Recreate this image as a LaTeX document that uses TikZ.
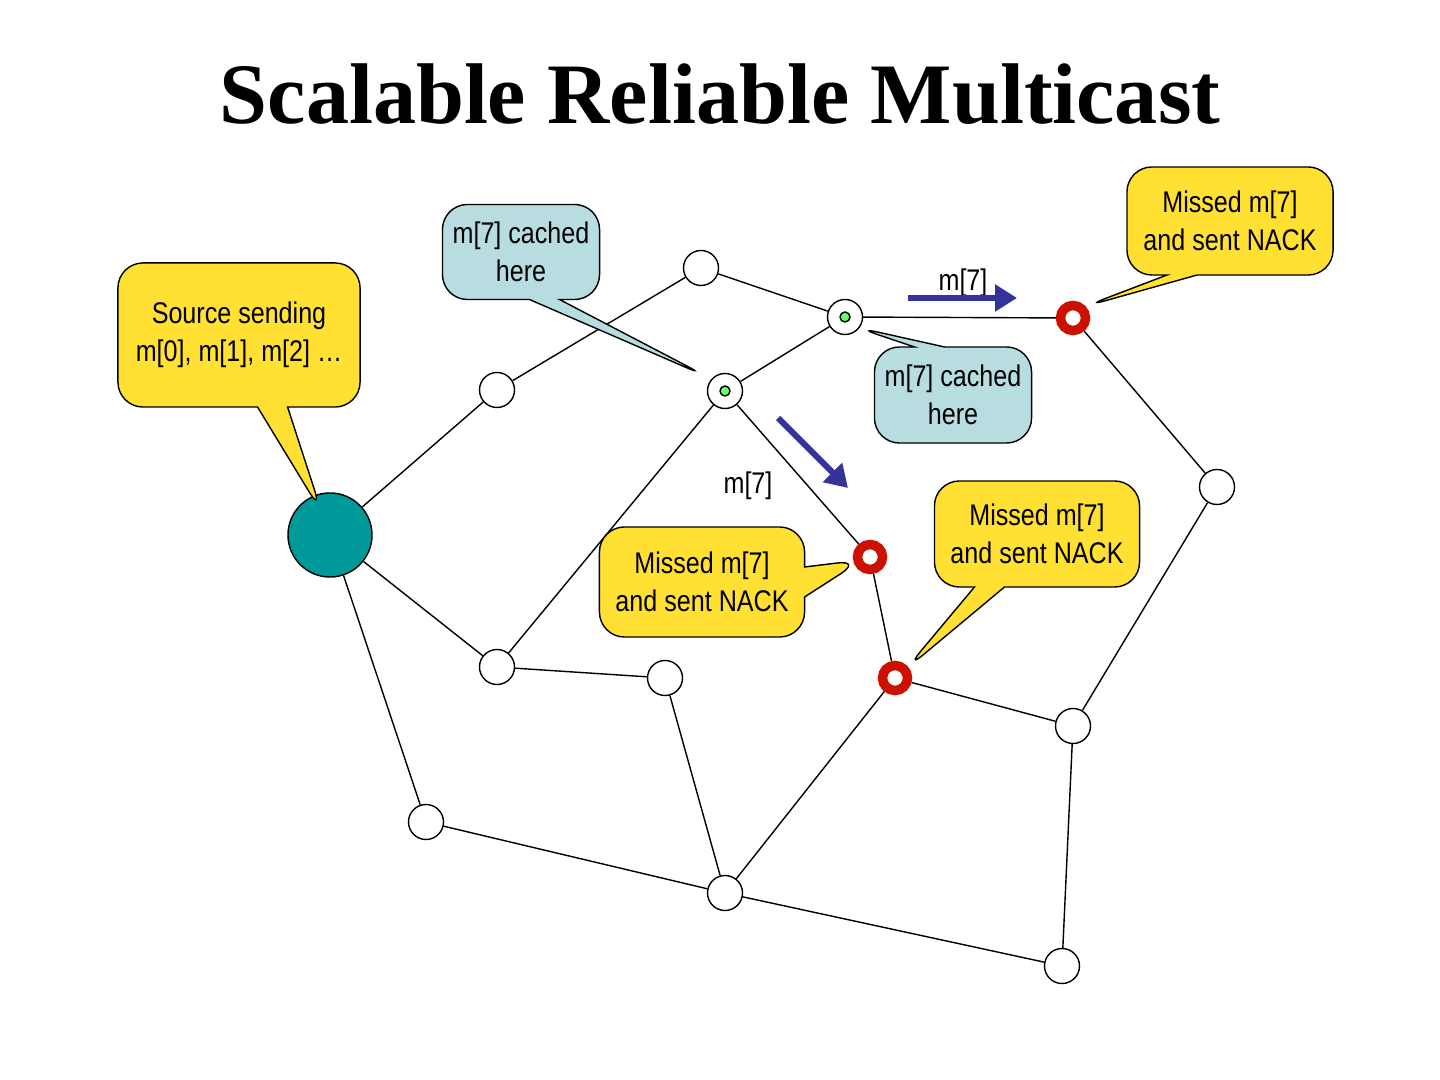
\documentclass[tikz,border=0pt]{standalone}
\usepackage{fontspec}
\setmainfont{Liberation Sans}[FakeStretch=0.84]
\newfontfamily\titlefont{Liberation Serif}
\usetikzlibrary{shapes.callouts,arrows.meta}
\definecolor{calloutyellow}{HTML}{FFE033}
\definecolor{cachedblue}{HTML}{B7DDE0}
\definecolor{sourceteal}{HTML}{009999}
\definecolor{missred}{HTML}{CC1100}
\definecolor{flowblue}{HTML}{333399}
\tikzset{
  router/.style={circle, draw, fill=white, minimum size=0.35cm, inner sep=0pt},
  missed/.style={circle, draw=missred, line width=0.95mm, fill=white, minimum size=0.25cm, inner sep=0pt},
  cachedot/.style={circle, draw, fill=green!60!white, minimum size=0.1cm, inner sep=0pt},
  bubble/.style={rectangle callout, rounded corners=2.5mm, draw, align=center, font=\fontsize{8.5}{10.8}\selectfont, inner sep=1pt, callout pointer width=0.3cm},
  flow/.style={-{Triangle[length=2.2mm,width=2.6mm]}, line width=0.6mm, flowblue},
}
\begin{document}
\begin{tikzpicture}[x=0.01cm, y=-0.01cm]
    \useasboundingbox (0,0) rectangle (1440,1080);
    \node (title) at (720,94) {\titlefont\bfseries\fontsize{24.5}{30}\selectfont Scalable Reliable Multicast};

    % network
    \node [circle, draw, fill=sourceteal, minimum size=0.84cm, inner sep=0pt] (src) at (330,535) {};
    \node [router] (n1) at (497,390) {};
    \node [router] (n2) at (701,268) {};
    \node [router] (n3) at (845,317) {};
    \node [missed] (n4) at (1073,318) {};
    \node [router] (n5) at (725,391) {};
    \node [missed] (n6) at (870,557) {};
    \node [router] (n7) at (1217,487) {};
    \node [router] (n8) at (497,667) {};
    \node [router] (n9) at (665,678) {};
    \node [missed] (n10) at (895,678) {};
    \node [router] (n11) at (1073,726) {};
    \node [router] (n12) at (426,822) {};
    \node [router] (n13) at (725,893) {};
    \node [router] (n14) at (1062,966) {};
    \node [cachedot] (c3) at (n3) {};
    \node [cachedot] (c5) at (n5) {};

    \draw (src) -- (n1) -- (n2) -- (n3) -- (n4) -- (n7) -- (n11) -- (n14) -- (n13) -- (n12) -- (src);
    \draw (n3) -- (n5) -- (n6) -- (n10) -- (n11);
    \draw (n5) -- (n8) -- (src);
    \draw (n8) -- (n9) -- (n13) -- (n10);

    % messages in flight
    \node (lab1) at (963,283) {\fontsize{8.5}{10}\selectfont m[7]};
    \coordinate (f1a) at (908,298);
    \coordinate (f1b) at (1017,298);
    \draw [flow] (f1a) -- (f1b);
    \node (lab2) at (748,486) {\fontsize{8.5}{10}\selectfont m[7]};
    \coordinate (f2a) at (778,418);
    \coordinate (f2b) at (848,488);
    \draw [flow] (f2a) -- (f2b);

    % callouts
    \node [bubble, fill=calloutyellow, minimum width=2.42cm, minimum height=1.44cm,
           callout absolute pointer={(322,513)}] (srcnote) at (239,335) {Source sending\\m[0], m[1], m[2] \ldots};
    \node [bubble, fill=cachedblue, minimum width=1.57cm, minimum height=0.95cm,
           callout absolute pointer={(708,377)}] (cache1) at (521,252) {m[7] cached\\here};
    \node [bubble, fill=cachedblue, minimum width=1.57cm, minimum height=0.96cm,
           callout absolute pointer={(855,327)}] (cache2) at (953,395) {m[7] cached\\here};
    \node [bubble, fill=calloutyellow, minimum width=2.06cm, minimum height=1.08cm,
           callout absolute pointer={(1083,307)}] (miss1) at (1230,221) {Missed m[7]\\and sent NACK};
    \node [bubble, fill=calloutyellow, minimum width=2.05cm, minimum height=1.06cm,
           callout absolute pointer={(905,670)}] (miss2) at (1037,534) {Missed m[7]\\and sent NACK};
    \node [bubble, fill=calloutyellow, minimum width=2.05cm, minimum height=1.1cm,
           callout absolute pointer={(862,560)}] (miss3) at (702,582) {Missed m[7]\\and sent NACK};
\end{tikzpicture}
\end{document}
